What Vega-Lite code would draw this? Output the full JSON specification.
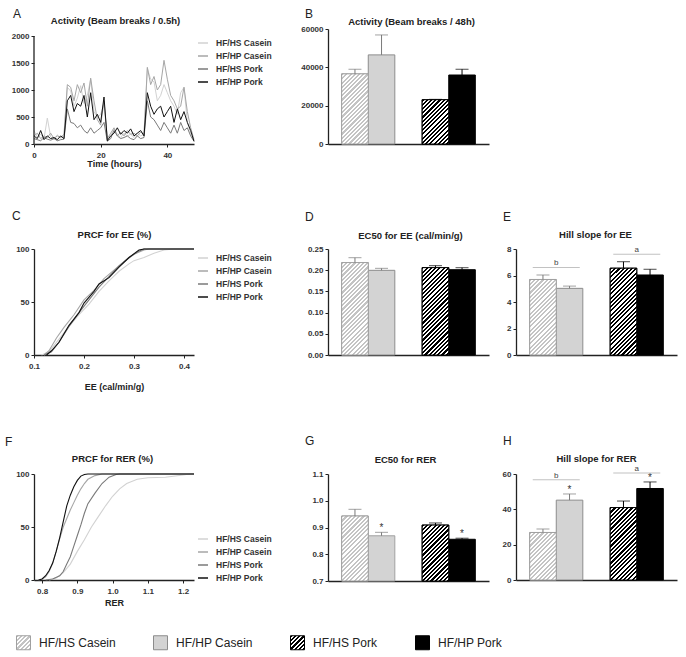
{
"$schema": "https://vega.github.io/schema/vega-lite/v6.json",
"background": "white",
"padding": {"left": 5, "top": 8, "right": 4, "bottom": 4},
"params": [
 {"name": "hd", "value": [{"offset":0,"color":"#000"},{"offset":0.0167,"color":"#000"},{"offset":0.0167,"color":"#fff"},{"offset":0.0333,"color":"#fff"},{"offset":0.0333,"color":"#000"},{"offset":0.05,"color":"#000"},{"offset":0.05,"color":"#fff"},{"offset":0.0667,"color":"#fff"},{"offset":0.0667,"color":"#000"},{"offset":0.0833,"color":"#000"},{"offset":0.0833,"color":"#fff"},{"offset":0.1,"color":"#fff"},{"offset":0.1,"color":"#000"},{"offset":0.1167,"color":"#000"},{"offset":0.1167,"color":"#fff"},{"offset":0.1333,"color":"#fff"},{"offset":0.1333,"color":"#000"},{"offset":0.15,"color":"#000"},{"offset":0.15,"color":"#fff"},{"offset":0.1667,"color":"#fff"},{"offset":0.1667,"color":"#000"},{"offset":0.1833,"color":"#000"},{"offset":0.1833,"color":"#fff"},{"offset":0.2,"color":"#fff"},{"offset":0.2,"color":"#000"},{"offset":0.2167,"color":"#000"},{"offset":0.2167,"color":"#fff"},{"offset":0.2333,"color":"#fff"},{"offset":0.2333,"color":"#000"},{"offset":0.25,"color":"#000"},{"offset":0.25,"color":"#fff"},{"offset":0.2667,"color":"#fff"},{"offset":0.2667,"color":"#000"},{"offset":0.2833,"color":"#000"},{"offset":0.2833,"color":"#fff"},{"offset":0.3,"color":"#fff"},{"offset":0.3,"color":"#000"},{"offset":0.3167,"color":"#000"},{"offset":0.3167,"color":"#fff"},{"offset":0.3333,"color":"#fff"},{"offset":0.3333,"color":"#000"},{"offset":0.35,"color":"#000"},{"offset":0.35,"color":"#fff"},{"offset":0.3667,"color":"#fff"},{"offset":0.3667,"color":"#000"},{"offset":0.3833,"color":"#000"},{"offset":0.3833,"color":"#fff"},{"offset":0.4,"color":"#fff"},{"offset":0.4,"color":"#000"},{"offset":0.4167,"color":"#000"},{"offset":0.4167,"color":"#fff"},{"offset":0.4333,"color":"#fff"},{"offset":0.4333,"color":"#000"},{"offset":0.45,"color":"#000"},{"offset":0.45,"color":"#fff"},{"offset":0.4667,"color":"#fff"},{"offset":0.4667,"color":"#000"},{"offset":0.4833,"color":"#000"},{"offset":0.4833,"color":"#fff"},{"offset":0.5,"color":"#fff"},{"offset":0.5,"color":"#000"},{"offset":0.5167,"color":"#000"},{"offset":0.5167,"color":"#fff"},{"offset":0.5333,"color":"#fff"},{"offset":0.5333,"color":"#000"},{"offset":0.55,"color":"#000"},{"offset":0.55,"color":"#fff"},{"offset":0.5667,"color":"#fff"},{"offset":0.5667,"color":"#000"},{"offset":0.5833,"color":"#000"},{"offset":0.5833,"color":"#fff"},{"offset":0.6,"color":"#fff"},{"offset":0.6,"color":"#000"},{"offset":0.6167,"color":"#000"},{"offset":0.6167,"color":"#fff"},{"offset":0.6333,"color":"#fff"},{"offset":0.6333,"color":"#000"},{"offset":0.65,"color":"#000"},{"offset":0.65,"color":"#fff"},{"offset":0.6667,"color":"#fff"},{"offset":0.6667,"color":"#000"},{"offset":0.6833,"color":"#000"},{"offset":0.6833,"color":"#fff"},{"offset":0.7,"color":"#fff"},{"offset":0.7,"color":"#000"},{"offset":0.7167,"color":"#000"},{"offset":0.7167,"color":"#fff"},{"offset":0.7333,"color":"#fff"},{"offset":0.7333,"color":"#000"},{"offset":0.75,"color":"#000"},{"offset":0.75,"color":"#fff"},{"offset":0.7667,"color":"#fff"},{"offset":0.7667,"color":"#000"},{"offset":0.7833,"color":"#000"},{"offset":0.7833,"color":"#fff"},{"offset":0.8,"color":"#fff"},{"offset":0.8,"color":"#000"},{"offset":0.8167,"color":"#000"},{"offset":0.8167,"color":"#fff"},{"offset":0.8333,"color":"#fff"},{"offset":0.8333,"color":"#000"},{"offset":0.85,"color":"#000"},{"offset":0.85,"color":"#fff"},{"offset":0.8667,"color":"#fff"},{"offset":0.8667,"color":"#000"},{"offset":0.8833,"color":"#000"},{"offset":0.8833,"color":"#fff"},{"offset":0.9,"color":"#fff"},{"offset":0.9,"color":"#000"},{"offset":0.9167,"color":"#000"},{"offset":0.9167,"color":"#fff"},{"offset":0.9333,"color":"#fff"},{"offset":0.9333,"color":"#000"},{"offset":0.95,"color":"#000"},{"offset":0.95,"color":"#fff"},{"offset":0.9667,"color":"#fff"},{"offset":0.9667,"color":"#000"},{"offset":0.9833,"color":"#000"},{"offset":0.9833,"color":"#fff"},{"offset":1,"color":"#fff"}]},
 {"name": "hl", "value": [{"offset":0,"color":"#c4c4c4"},{"offset":0.0167,"color":"#c4c4c4"},{"offset":0.0167,"color":"#fff"},{"offset":0.0333,"color":"#fff"},{"offset":0.0333,"color":"#c4c4c4"},{"offset":0.05,"color":"#c4c4c4"},{"offset":0.05,"color":"#fff"},{"offset":0.0667,"color":"#fff"},{"offset":0.0667,"color":"#c4c4c4"},{"offset":0.0833,"color":"#c4c4c4"},{"offset":0.0833,"color":"#fff"},{"offset":0.1,"color":"#fff"},{"offset":0.1,"color":"#c4c4c4"},{"offset":0.1167,"color":"#c4c4c4"},{"offset":0.1167,"color":"#fff"},{"offset":0.1333,"color":"#fff"},{"offset":0.1333,"color":"#c4c4c4"},{"offset":0.15,"color":"#c4c4c4"},{"offset":0.15,"color":"#fff"},{"offset":0.1667,"color":"#fff"},{"offset":0.1667,"color":"#c4c4c4"},{"offset":0.1833,"color":"#c4c4c4"},{"offset":0.1833,"color":"#fff"},{"offset":0.2,"color":"#fff"},{"offset":0.2,"color":"#c4c4c4"},{"offset":0.2167,"color":"#c4c4c4"},{"offset":0.2167,"color":"#fff"},{"offset":0.2333,"color":"#fff"},{"offset":0.2333,"color":"#c4c4c4"},{"offset":0.25,"color":"#c4c4c4"},{"offset":0.25,"color":"#fff"},{"offset":0.2667,"color":"#fff"},{"offset":0.2667,"color":"#c4c4c4"},{"offset":0.2833,"color":"#c4c4c4"},{"offset":0.2833,"color":"#fff"},{"offset":0.3,"color":"#fff"},{"offset":0.3,"color":"#c4c4c4"},{"offset":0.3167,"color":"#c4c4c4"},{"offset":0.3167,"color":"#fff"},{"offset":0.3333,"color":"#fff"},{"offset":0.3333,"color":"#c4c4c4"},{"offset":0.35,"color":"#c4c4c4"},{"offset":0.35,"color":"#fff"},{"offset":0.3667,"color":"#fff"},{"offset":0.3667,"color":"#c4c4c4"},{"offset":0.3833,"color":"#c4c4c4"},{"offset":0.3833,"color":"#fff"},{"offset":0.4,"color":"#fff"},{"offset":0.4,"color":"#c4c4c4"},{"offset":0.4167,"color":"#c4c4c4"},{"offset":0.4167,"color":"#fff"},{"offset":0.4333,"color":"#fff"},{"offset":0.4333,"color":"#c4c4c4"},{"offset":0.45,"color":"#c4c4c4"},{"offset":0.45,"color":"#fff"},{"offset":0.4667,"color":"#fff"},{"offset":0.4667,"color":"#c4c4c4"},{"offset":0.4833,"color":"#c4c4c4"},{"offset":0.4833,"color":"#fff"},{"offset":0.5,"color":"#fff"},{"offset":0.5,"color":"#c4c4c4"},{"offset":0.5167,"color":"#c4c4c4"},{"offset":0.5167,"color":"#fff"},{"offset":0.5333,"color":"#fff"},{"offset":0.5333,"color":"#c4c4c4"},{"offset":0.55,"color":"#c4c4c4"},{"offset":0.55,"color":"#fff"},{"offset":0.5667,"color":"#fff"},{"offset":0.5667,"color":"#c4c4c4"},{"offset":0.5833,"color":"#c4c4c4"},{"offset":0.5833,"color":"#fff"},{"offset":0.6,"color":"#fff"},{"offset":0.6,"color":"#c4c4c4"},{"offset":0.6167,"color":"#c4c4c4"},{"offset":0.6167,"color":"#fff"},{"offset":0.6333,"color":"#fff"},{"offset":0.6333,"color":"#c4c4c4"},{"offset":0.65,"color":"#c4c4c4"},{"offset":0.65,"color":"#fff"},{"offset":0.6667,"color":"#fff"},{"offset":0.6667,"color":"#c4c4c4"},{"offset":0.6833,"color":"#c4c4c4"},{"offset":0.6833,"color":"#fff"},{"offset":0.7,"color":"#fff"},{"offset":0.7,"color":"#c4c4c4"},{"offset":0.7167,"color":"#c4c4c4"},{"offset":0.7167,"color":"#fff"},{"offset":0.7333,"color":"#fff"},{"offset":0.7333,"color":"#c4c4c4"},{"offset":0.75,"color":"#c4c4c4"},{"offset":0.75,"color":"#fff"},{"offset":0.7667,"color":"#fff"},{"offset":0.7667,"color":"#c4c4c4"},{"offset":0.7833,"color":"#c4c4c4"},{"offset":0.7833,"color":"#fff"},{"offset":0.8,"color":"#fff"},{"offset":0.8,"color":"#c4c4c4"},{"offset":0.8167,"color":"#c4c4c4"},{"offset":0.8167,"color":"#fff"},{"offset":0.8333,"color":"#fff"},{"offset":0.8333,"color":"#c4c4c4"},{"offset":0.85,"color":"#c4c4c4"},{"offset":0.85,"color":"#fff"},{"offset":0.8667,"color":"#fff"},{"offset":0.8667,"color":"#c4c4c4"},{"offset":0.8833,"color":"#c4c4c4"},{"offset":0.8833,"color":"#fff"},{"offset":0.9,"color":"#fff"},{"offset":0.9,"color":"#c4c4c4"},{"offset":0.9167,"color":"#c4c4c4"},{"offset":0.9167,"color":"#fff"},{"offset":0.9333,"color":"#fff"},{"offset":0.9333,"color":"#c4c4c4"},{"offset":0.95,"color":"#c4c4c4"},{"offset":0.95,"color":"#fff"},{"offset":0.9667,"color":"#fff"},{"offset":0.9667,"color":"#c4c4c4"},{"offset":0.9833,"color":"#c4c4c4"},{"offset":0.9833,"color":"#fff"},{"offset":1,"color":"#fff"}]}
],
"datasets": {
 "act": [
  {"t":0,"HF/HS Casein":250,"HF/HP Casein":150,"HF/HS Pork":100,"HF/HP Pork":150},
  {"t":1,"HF/HS Casein":120,"HF/HP Casein":200,"HF/HS Pork":80,"HF/HP Pork":100},
  {"t":2,"HF/HS Casein":180,"HF/HP Casein":100,"HF/HS Pork":60,"HF/HP Pork":250},
  {"t":3,"HF/HS Casein":100,"HF/HP Casein":150,"HF/HS Pork":120,"HF/HP Pork":80},
  {"t":4,"HF/HS Casein":480,"HF/HP Casein":120,"HF/HS Pork":90,"HF/HP Pork":150},
  {"t":5,"HF/HS Casein":130,"HF/HP Casein":200,"HF/HS Pork":70,"HF/HP Pork":100},
  {"t":6,"HF/HS Casein":90,"HF/HP Casein":100,"HF/HS Pork":100,"HF/HP Pork":120},
  {"t":7,"HF/HS Casein":170,"HF/HP Casein":150,"HF/HS Pork":60,"HF/HP Pork":80},
  {"t":8,"HF/HS Casein":110,"HF/HP Casein":120,"HF/HS Pork":80,"HF/HP Pork":150},
  {"t":9,"HF/HS Casein":140,"HF/HP Casein":180,"HF/HS Pork":90,"HF/HP Pork":100},
  {"t":10,"HF/HS Casein":1050,"HF/HP Casein":1100,"HF/HS Pork":650,"HF/HP Pork":800},
  {"t":11,"HF/HS Casein":980,"HF/HP Casein":1050,"HF/HS Pork":400,"HF/HP Pork":900},
  {"t":12,"HF/HS Casein":700,"HF/HP Casein":800,"HF/HS Pork":380,"HF/HP Pork":600},
  {"t":13,"HF/HS Casein":850,"HF/HP Casein":1100,"HF/HS Pork":300,"HF/HP Pork":750},
  {"t":14,"HF/HS Casein":1080,"HF/HP Casein":950,"HF/HS Pork":350,"HF/HP Pork":700},
  {"t":15,"HF/HS Casein":750,"HF/HP Casein":1130,"HF/HS Pork":250,"HF/HP Pork":900},
  {"t":16,"HF/HS Casein":900,"HF/HP Casein":700,"HF/HS Pork":200,"HF/HP Pork":500},
  {"t":17,"HF/HS Casein":1200,"HF/HP Casein":1220,"HF/HS Pork":300,"HF/HP Pork":950},
  {"t":18,"HF/HS Casein":600,"HF/HP Casein":800,"HF/HS Pork":200,"HF/HP Pork":450},
  {"t":19,"HF/HS Casein":500,"HF/HP Casein":450,"HF/HS Pork":250,"HF/HP Pork":550},
  {"t":20,"HF/HS Casein":550,"HF/HP Casein":350,"HF/HS Pork":300,"HF/HP Pork":400},
  {"t":21,"HF/HS Casein":750,"HF/HP Casein":800,"HF/HS Pork":400,"HF/HP Pork":870},
  {"t":22,"HF/HS Casein":80,"HF/HP Casein":100,"HF/HS Pork":50,"HF/HP Pork":60},
  {"t":23,"HF/HS Casein":150,"HF/HP Casein":200,"HF/HS Pork":100,"HF/HP Pork":150},
  {"t":24,"HF/HS Casein":280,"HF/HP Casein":300,"HF/HS Pork":250,"HF/HP Pork":200},
  {"t":25,"HF/HS Casein":180,"HF/HP Casein":150,"HF/HS Pork":150,"HF/HP Pork":300},
  {"t":26,"HF/HS Casein":120,"HF/HP Casein":220,"HF/HS Pork":100,"HF/HP Pork":180},
  {"t":27,"HF/HS Casein":200,"HF/HP Casein":150,"HF/HS Pork":120,"HF/HP Pork":250},
  {"t":28,"HF/HS Casein":150,"HF/HP Casein":250,"HF/HS Pork":150,"HF/HP Pork":200},
  {"t":29,"HF/HS Casein":180,"HF/HP Casein":180,"HF/HS Pork":100,"HF/HP Pork":280},
  {"t":30,"HF/HS Casein":120,"HF/HP Casein":200,"HF/HS Pork":80,"HF/HP Pork":150},
  {"t":31,"HF/HS Casein":200,"HF/HP Casein":150,"HF/HS Pork":150,"HF/HP Pork":200},
  {"t":32,"HF/HS Casein":150,"HF/HP Casein":220,"HF/HS Pork":100,"HF/HP Pork":250},
  {"t":33,"HF/HS Casein":180,"HF/HP Casein":180,"HF/HS Pork":120,"HF/HP Pork":150},
  {"t":34,"HF/HS Casein":1400,"HF/HP Casein":1420,"HF/HS Pork":800,"HF/HP Pork":950},
  {"t":35,"HF/HS Casein":1200,"HF/HP Casein":1100,"HF/HS Pork":500,"HF/HP Pork":700},
  {"t":36,"HF/HS Casein":1150,"HF/HP Casein":1250,"HF/HS Pork":450,"HF/HP Pork":550},
  {"t":37,"HF/HS Casein":800,"HF/HP Casein":1000,"HF/HS Pork":350,"HF/HP Pork":650},
  {"t":38,"HF/HS Casein":900,"HF/HP Casein":1100,"HF/HS Pork":250,"HF/HP Pork":700},
  {"t":39,"HF/HS Casein":1100,"HF/HP Casein":1550,"HF/HS Pork":400,"HF/HP Pork":500},
  {"t":40,"HF/HS Casein":950,"HF/HP Casein":1200,"HF/HS Pork":300,"HF/HP Pork":600},
  {"t":41,"HF/HS Casein":800,"HF/HP Casein":900,"HF/HS Pork":200,"HF/HP Pork":700},
  {"t":42,"HF/HS Casein":700,"HF/HP Casein":800,"HF/HS Pork":350,"HF/HP Pork":400},
  {"t":43,"HF/HS Casein":550,"HF/HP Casein":650,"HF/HS Pork":200,"HF/HP Pork":650},
  {"t":44,"HF/HS Casein":950,"HF/HP Casein":700,"HF/HS Pork":400,"HF/HP Pork":450},
  {"t":45,"HF/HS Casein":1050,"HF/HP Casein":1050,"HF/HS Pork":250,"HF/HP Pork":600},
  {"t":46,"HF/HS Casein":400,"HF/HP Casein":600,"HF/HS Pork":300,"HF/HP Pork":400},
  {"t":47,"HF/HS Casein":200,"HF/HP Casein":300,"HF/HS Pork":150,"HF/HP Pork":250},
  {"t":48,"HF/HS Casein":60,"HF/HP Casein":80,"HF/HS Pork":50,"HF/HP Pork":50}
 ],
 "ee": [
  {"s":"HF/HS Casein","x":0.115,"y":0},{"s":"HF/HS Casein","x":0.13,"y":3},{"s":"HF/HS Casein","x":0.15,"y":15},{"s":"HF/HS Casein","x":0.17,"y":27},{"s":"HF/HS Casein","x":0.19,"y":38},{"s":"HF/HS Casein","x":0.21,"y":48},{"s":"HF/HS Casein","x":0.23,"y":60},{"s":"HF/HS Casein","x":0.25,"y":70},{"s":"HF/HS Casein","x":0.27,"y":79},{"s":"HF/HS Casein","x":0.29,"y":86},{"s":"HF/HS Casein","x":0.30,"y":89},{"s":"HF/HS Casein","x":0.32,"y":92},{"s":"HF/HS Casein","x":0.34,"y":96},{"s":"HF/HS Casein","x":0.36,"y":99},{"s":"HF/HS Casein","x":0.38,"y":100},{"s":"HF/HS Casein","x":0.42,"y":100},
  {"s":"HF/HP Casein","x":0.12,"y":0},{"s":"HF/HP Casein","x":0.13,"y":4},{"s":"HF/HP Casein","x":0.145,"y":16},{"s":"HF/HP Casein","x":0.16,"y":26},{"s":"HF/HP Casein","x":0.18,"y":38},{"s":"HF/HP Casein","x":0.20,"y":52},{"s":"HF/HP Casein","x":0.22,"y":61},{"s":"HF/HP Casein","x":0.24,"y":72},{"s":"HF/HP Casein","x":0.26,"y":80},{"s":"HF/HP Casein","x":0.28,"y":88},{"s":"HF/HP Casein","x":0.30,"y":95},{"s":"HF/HP Casein","x":0.32,"y":99},{"s":"HF/HP Casein","x":0.33,"y":100},{"s":"HF/HP Casein","x":0.42,"y":100},
  {"s":"HF/HS Pork","x":0.12,"y":0},{"s":"HF/HS Pork","x":0.135,"y":3},{"s":"HF/HS Pork","x":0.15,"y":12},{"s":"HF/HS Pork","x":0.17,"y":27},{"s":"HF/HS Pork","x":0.19,"y":40},{"s":"HF/HS Pork","x":0.21,"y":52},{"s":"HF/HS Pork","x":0.23,"y":64},{"s":"HF/HS Pork","x":0.25,"y":74},{"s":"HF/HS Pork","x":0.27,"y":84},{"s":"HF/HS Pork","x":0.29,"y":92},{"s":"HF/HS Pork","x":0.31,"y":98},{"s":"HF/HS Pork","x":0.32,"y":100},{"s":"HF/HS Pork","x":0.42,"y":100},
  {"s":"HF/HP Pork","x":0.125,"y":0},{"s":"HF/HP Pork","x":0.135,"y":4},{"s":"HF/HP Pork","x":0.15,"y":12},{"s":"HF/HP Pork","x":0.17,"y":28},{"s":"HF/HP Pork","x":0.19,"y":40},{"s":"HF/HP Pork","x":0.20,"y":49},{"s":"HF/HP Pork","x":0.22,"y":60},{"s":"HF/HP Pork","x":0.23,"y":67},{"s":"HF/HP Pork","x":0.25,"y":73},{"s":"HF/HP Pork","x":0.27,"y":83},{"s":"HF/HP Pork","x":0.29,"y":92},{"s":"HF/HP Pork","x":0.31,"y":99},{"s":"HF/HP Pork","x":0.32,"y":100},{"s":"HF/HP Pork","x":0.42,"y":100}
 ],
 "rer": [
  {"s":"HF/HS Casein","x":0.82,"y":0},{"s":"HF/HS Casein","x":0.84,"y":2},{"s":"HF/HS Casein","x":0.86,"y":7},{"s":"HF/HS Casein","x":0.88,"y":15},{"s":"HF/HS Casein","x":0.90,"y":27},{"s":"HF/HS Casein","x":0.92,"y":38},{"s":"HF/HS Casein","x":0.94,"y":50},{"s":"HF/HS Casein","x":0.96,"y":60},{"s":"HF/HS Casein","x":0.98,"y":70},{"s":"HF/HS Casein","x":1.00,"y":79},{"s":"HF/HS Casein","x":1.02,"y":86},{"s":"HF/HS Casein","x":1.04,"y":91},{"s":"HF/HS Casein","x":1.07,"y":95},{"s":"HF/HS Casein","x":1.10,"y":96.5},{"s":"HF/HS Casein","x":1.15,"y":97},{"s":"HF/HS Casein","x":1.20,"y":99},{"s":"HF/HS Casein","x":1.22,"y":100},{"s":"HF/HS Casein","x":1.231,"y":100},
  {"s":"HF/HP Casein","x":0.79,"y":0},{"s":"HF/HP Casein","x":0.80,"y":1},{"s":"HF/HP Casein","x":0.81,"y":3},{"s":"HF/HP Casein","x":0.82,"y":8},{"s":"HF/HP Casein","x":0.83,"y":16},{"s":"HF/HP Casein","x":0.84,"y":27},{"s":"HF/HP Casein","x":0.85,"y":39},{"s":"HF/HP Casein","x":0.86,"y":50},{"s":"HF/HP Casein","x":0.87,"y":58},{"s":"HF/HP Casein","x":0.88,"y":66},{"s":"HF/HP Casein","x":0.89,"y":73},{"s":"HF/HP Casein","x":0.90,"y":80},{"s":"HF/HP Casein","x":0.91,"y":86},{"s":"HF/HP Casein","x":0.92,"y":91},{"s":"HF/HP Casein","x":0.93,"y":95},{"s":"HF/HP Casein","x":0.95,"y":98.5},{"s":"HF/HP Casein","x":0.97,"y":100},{"s":"HF/HP Casein","x":1.231,"y":100},
  {"s":"HF/HS Pork","x":0.81,"y":0},{"s":"HF/HS Pork","x":0.83,"y":1},{"s":"HF/HS Pork","x":0.85,"y":4},{"s":"HF/HS Pork","x":0.86,"y":8},{"s":"HF/HS Pork","x":0.87,"y":15},{"s":"HF/HS Pork","x":0.88,"y":22},{"s":"HF/HS Pork","x":0.89,"y":32},{"s":"HF/HS Pork","x":0.90,"y":42},{"s":"HF/HS Pork","x":0.91,"y":52},{"s":"HF/HS Pork","x":0.92,"y":63},{"s":"HF/HS Pork","x":0.93,"y":72},{"s":"HF/HS Pork","x":0.95,"y":82},{"s":"HF/HS Pork","x":0.97,"y":91},{"s":"HF/HS Pork","x":0.99,"y":97},{"s":"HF/HS Pork","x":1.01,"y":99.5},{"s":"HF/HS Pork","x":1.02,"y":100},{"s":"HF/HS Pork","x":1.231,"y":100},
  {"s":"HF/HP Pork","x":0.79,"y":0},{"s":"HF/HP Pork","x":0.80,"y":1},{"s":"HF/HP Pork","x":0.81,"y":4},{"s":"HF/HP Pork","x":0.82,"y":9},{"s":"HF/HP Pork","x":0.83,"y":16},{"s":"HF/HP Pork","x":0.84,"y":27},{"s":"HF/HP Pork","x":0.85,"y":40},{"s":"HF/HP Pork","x":0.86,"y":55},{"s":"HF/HP Pork","x":0.87,"y":70},{"s":"HF/HP Pork","x":0.88,"y":80},{"s":"HF/HP Pork","x":0.89,"y":88},{"s":"HF/HP Pork","x":0.90,"y":94},{"s":"HF/HP Pork","x":0.91,"y":98},{"s":"HF/HP Pork","x":0.92,"y":99.5},{"s":"HF/HP Pork","x":0.93,"y":100},{"s":"HF/HP Pork","x":1.231,"y":100}
 ]
},
"columns": 4,
"spacing": {"row": 0, "column": 27},
"bounds": "flush",
"align": "each",
"resolve": {"scale": {"color": "independent", "fill": "independent", "stroke": "independent"}, "legend": {"color": "independent", "fill": "independent", "stroke": "independent"}},
"concat": [
 {
  "width": 160, "height": 115,
  "title": {"text": "A", "dx": -21, "offset": -6},
  "layer": [
   {
    "data": {"name": "act"},
    "transform": [{"fold": ["HF/HS Casein","HF/HP Casein","HF/HS Pork","HF/HP Pork"], "as": ["series","v"]}],
    "mark": {"type": "line", "strokeWidth": 1},
    "encoding": {
     "x": {"field": "t", "type": "quantitative", "scale": {"domain": [0,48], "nice": false}, "axis": {"values": [0,20,40], "tickCount": 20, "title": "Time (hours)", "titlePadding": 0}},
     "y": {"field": "v", "type": "quantitative", "scale": {"domain": [0,2130], "nice": false}, "axis": {"values": [0,500,1000,1500,2000], "tickCount": 20, "format": "d", "domain": false, "title": "Activity (Beam breaks / 0.5h)", "titleX": 81, "titleY": -6}},
     "color": {"field": "series", "type": "nominal", "scale": {"domain": ["HF/HS Casein","HF/HP Casein","HF/HS Pork","HF/HP Pork"], "range": ["#d2d2d2","#a6a6a6","#7a7a7a","#111111"]}, "legend": {"orient": "none", "legendX": 163, "legendY": 8, "title": null}}
    }
   },
   {
    "data": {"values": [{}]},
    "mark": {"type": "rule", "color": "#222222", "strokeWidth": 1.3},
    "encoding": {"x": {"datum": 0}, "y": {"datum": 0}, "y2": {"datum": 2000}}
   }
  ]
 },
 {"width": 80, "height": 220, "data": {"values": []}, "mark": "point"},
 {
  "width": 161, "height": 115,
  "title": {"text": "B", "dx": -23, "offset": -5},
  "data": {"values": [
   {"group":"Casein","diet":"HF/HS Casein","protein":"HS","v":36600,"hi":39000},
   {"group":"Casein","diet":"HF/HP Casein","protein":"HP","v":46500,"hi":56900},
   {"group":"Pork","diet":"HF/HS Pork","protein":"HS","v":23100,"hi":23300},
   {"group":"Pork","diet":"HF/HP Pork","protein":"HP","v":36000,"hi":39000}
  ]},
  "encoding": {"x": {"field": "group", "type": "nominal", "sort": ["Casein","Pork"], "scale": {"paddingInner": 0.34, "paddingOuter": 0.17}, "axis": {"labels": false, "ticks": false, "title": null}}},
  "layer": [
   {"mark": {"type": "bar", "strokeWidth": 1},
    "encoding": {
     "xOffset": {"field": "protein", "type": "nominal", "sort": ["HS","HP"], "scale": {"paddingInner": 0, "paddingOuter": 0}},
     "y": {"field": "v", "type": "quantitative", "scale": {"domain": [0,60000], "nice": false}, "axis": {"values": [0,20000,40000,60000], "tickCount": 20, "format": "d", "title": "Activity (Beam breaks / 48h)", "titleX": 83, "titleY": -5}},
     "fill": {"field": "diet", "type": "nominal", "scale": {"domain": ["HF/HS Casein","HF/HP Casein","HF/HS Pork","HF/HP Pork"], "range": ["#ffffff","#d3d3d3","#ffffff","#000000"]}, "legend": null},
     "stroke": {"field": "diet", "type": "nominal", "scale": {"domain": ["HF/HS Casein","HF/HP Casein","HF/HS Pork","HF/HP Pork"], "range": ["#a0a0a0","#8c8c8c","#000000","#000000"]}, "legend": null}
    }},
   {"transform": [{"filter": "datum.diet === 'HF/HS Casein'"}],
    "mark": {"type": "bar", "stroke": "#a0a0a0", "strokeWidth": 1, "fill": {"expr": "{gradient:'linear',x1:0,y1:0,x2:0.6009,y2:1.5868,stops:hl}"}},
    "encoding": {"xOffset": {"field": "protein", "type": "nominal", "sort": ["HS","HP"]}, "y": {"field": "v", "type": "quantitative", "title": "Activity (Beam breaks / 48h)"}}},
   {"transform": [{"filter": "datum.diet === 'HF/HS Pork'"}],
    "mark": {"type": "bar", "stroke": "#000000", "strokeWidth": 1, "fill": {"expr": "{gradient:'linear',x1:0,y1:0,x2:1.2681,y2:2.1137,stops:hd}"}},
    "encoding": {"xOffset": {"field": "protein", "type": "nominal", "sort": ["HS","HP"]}, "y": {"field": "v", "type": "quantitative", "title": "Activity (Beam breaks / 48h)"}}},
   {"mark": {"type": "rule", "strokeWidth": 1},
    "encoding": {"xOffset": {"field": "protein", "type": "nominal", "sort": ["HS","HP"]}, "y": {"field": "v", "type": "quantitative", "title": "Activity (Beam breaks / 48h)"}, "y2": {"field": "hi"}, "color": {"condition": {"test": "indexof(datum.diet,'Casein')>=0", "value": "#7a7a7a"}, "value": "#000000"}}},
   {"mark": {"type": "tick", "size": 13, "thickness": 1},
    "encoding": {"xOffset": {"field": "protein", "type": "nominal", "sort": ["HS","HP"]}, "y": {"field": "hi", "type": "quantitative", "title": "Activity (Beam breaks / 48h)"}, "color": {"condition": {"test": "indexof(datum.diet,'Casein')>=0", "value": "#7a7a7a"}, "value": "#000000"}}}
  ]
 },
 {"width": 161, "height": 1, "data": {"values": []}, "mark": "point"},
 {
  "width": 160, "height": 106,
  "title": {"text": "C", "dx": -22, "offset": 6},
  "data": {"name": "ee"},
  "mark": {"type": "line", "strokeWidth": 1.1},
  "encoding": {
   "x": {"field": "x", "type": "quantitative", "scale": {"domain": [0.1,0.42], "nice": false}, "axis": {"values": [0.1,0.2,0.3,0.4], "tickCount": 20, "format": ".1f", "title": "EE (cal/min/g)", "titlePadding": 12}},
   "y": {"field": "y", "type": "quantitative", "scale": {"domain": [0,100], "nice": false}, "axis": {"values": [0,50,100], "tickCount": 20, "format": "d", "title": "PRCF for EE (%)", "titleX": 80, "titleY": -12}},
   "color": {"field": "s", "type": "nominal", "scale": {"domain": ["HF/HS Casein","HF/HP Casein","HF/HS Pork","HF/HP Pork"], "range": ["#d2d2d2","#a6a6a6","#7a7a7a","#111111"]}, "legend": {"orient": "none", "legendX": 163, "legendY": 3, "title": null}}
  }
 },
 {"width": 80, "height": 225, "data": {"values": []}, "mark": "point"},
 {
  "width": 161, "height": 106,
  "title": {"text": "D", "dx": -23, "offset": 6},
  "data": {"values": [
   {"group":"Casein","diet":"HF/HS Casein","protein":"HS","v":0.218,"hi":0.2295},
   {"group":"Casein","diet":"HF/HP Casein","protein":"HP","v":0.1997,"hi":0.2044},
   {"group":"Pork","diet":"HF/HS Pork","protein":"HS","v":0.206,"hi":0.2107},
   {"group":"Pork","diet":"HF/HP Pork","protein":"HP","v":0.2012,"hi":0.2059}
  ]},
  "encoding": {"x": {"field": "group", "type": "nominal", "sort": ["Casein","Pork"], "scale": {"paddingInner": 0.34, "paddingOuter": 0.17}, "axis": {"labels": false, "ticks": false, "title": null}}},
  "layer": [
   {"mark": {"type": "bar", "strokeWidth": 1},
    "encoding": {
     "xOffset": {"field": "protein", "type": "nominal", "sort": ["HS","HP"], "scale": {"paddingInner": 0, "paddingOuter": 0}},
     "y": {"field": "v", "type": "quantitative", "scale": {"domain": [0,0.25], "nice": false}, "axis": {"values": [0,0.05,0.1,0.15,0.2,0.25], "tickCount": 20, "format": ".2f", "title": "EC50 for EE (cal/min/g)", "titleX": 82, "titleY": -11}},
     "fill": {"field": "diet", "type": "nominal", "scale": {"domain": ["HF/HS Casein","HF/HP Casein","HF/HS Pork","HF/HP Pork"], "range": ["#ffffff","#d3d3d3","#ffffff","#000000"]}, "legend": null},
     "stroke": {"field": "diet", "type": "nominal", "scale": {"domain": ["HF/HS Casein","HF/HP Casein","HF/HS Pork","HF/HP Pork"], "range": ["#a0a0a0","#8c8c8c","#000000","#000000"]}, "legend": null}
    }},
   {"transform": [{"filter": "datum.diet === 'HF/HS Casein'"}],
    "mark": {"type": "bar", "stroke": "#a0a0a0", "strokeWidth": 1, "fill": {"expr": "{gradient:'linear',x1:0,y1:0,x2:0.3656,y2:1.2720,stops:hl}"}},
    "encoding": {"xOffset": {"field": "protein", "type": "nominal", "sort": ["HS","HP"]}, "y": {"field": "v", "type": "quantitative", "title": "EC50 for EE (cal/min/g)"}}},
   {"transform": [{"filter": "datum.diet === 'HF/HS Pork'"}],
    "mark": {"type": "bar", "stroke": "#000000", "strokeWidth": 1, "fill": {"expr": "{gradient:'linear',x1:0,y1:0,x2:0.4057,y2:1.3339,stops:hd}"}},
    "encoding": {"xOffset": {"field": "protein", "type": "nominal", "sort": ["HS","HP"]}, "y": {"field": "v", "type": "quantitative", "title": "EC50 for EE (cal/min/g)"}}},
   {"mark": {"type": "rule", "strokeWidth": 1},
    "encoding": {"xOffset": {"field": "protein", "type": "nominal", "sort": ["HS","HP"]}, "y": {"field": "v", "type": "quantitative", "title": "EC50 for EE (cal/min/g)"}, "y2": {"field": "hi"}, "color": {"condition": {"test": "indexof(datum.diet,'Casein')>=0", "value": "#7a7a7a"}, "value": "#000000"}}},
   {"mark": {"type": "tick", "size": 13, "thickness": 1},
    "encoding": {"xOffset": {"field": "protein", "type": "nominal", "sort": ["HS","HP"]}, "y": {"field": "hi", "type": "quantitative", "title": "EC50 for EE (cal/min/g)"}, "color": {"condition": {"test": "indexof(datum.diet,'Casein')>=0", "value": "#7a7a7a"}, "value": "#000000"}}}
  ]
 },
 {
  "width": 161, "height": 106,
  "title": {"text": "E", "dx": -13, "offset": 5},
  "data": {"values": [
   {"group":"Casein","diet":"HF/HS Casein","protein":"HS","v":5.7,"hi":6.04},
   {"group":"Casein","diet":"HF/HP Casein","protein":"HP","v":5.03,"hi":5.2},
   {"group":"Pork","diet":"HF/HS Pork","protein":"HS","v":6.55,"hi":7.04},
   {"group":"Pork","diet":"HF/HP Pork","protein":"HP","v":6.04,"hi":6.47}
  ]},
  "encoding": {"x": {"field": "group", "type": "nominal", "sort": ["Casein","Pork"], "scale": {"paddingInner": 0.34, "paddingOuter": 0.17}, "axis": {"labels": false, "ticks": false, "title": null}}},
  "layer": [
   {"mark": {"type": "bar", "strokeWidth": 1},
    "encoding": {
     "xOffset": {"field": "protein", "type": "nominal", "sort": ["HS","HP"], "scale": {"paddingInner": 0, "paddingOuter": 0}},
     "y": {"field": "v", "type": "quantitative", "scale": {"domain": [0,8], "nice": false}, "axis": {"values": [0,2,4,6,8], "tickCount": 20, "format": "d", "title": "Hill slope for EE", "titleX": 79, "titleY": -12}},
     "fill": {"field": "diet", "type": "nominal", "scale": {"domain": ["HF/HS Casein","HF/HP Casein","HF/HS Pork","HF/HP Pork"], "range": ["#ffffff","#d3d3d3","#ffffff","#000000"]}, "legend": null},
     "stroke": {"field": "diet", "type": "nominal", "scale": {"domain": ["HF/HS Casein","HF/HP Casein","HF/HS Pork","HF/HP Pork"], "range": ["#a0a0a0","#8c8c8c","#000000","#000000"]}, "legend": null}
    }},
   {"transform": [{"filter": "datum.diet === 'HF/HS Casein'"}],
    "mark": {"type": "bar", "stroke": "#a0a0a0", "strokeWidth": 1, "fill": {"expr": "{gradient:'linear',x1:0,y1:0,x2:0.5275,y2:1.4997,stops:hl}"}},
    "encoding": {"xOffset": {"field": "protein", "type": "nominal", "sort": ["HS","HP"]}, "y": {"field": "v", "type": "quantitative", "title": "Hill slope for EE"}}},
   {"transform": [{"filter": "datum.diet === 'HF/HS Pork'"}],
    "mark": {"type": "bar", "stroke": "#000000", "strokeWidth": 1, "fill": {"expr": "{gradient:'linear',x1:0,y1:0,x2:0.4104,y2:1.3409,stops:hd}"}},
    "encoding": {"xOffset": {"field": "protein", "type": "nominal", "sort": ["HS","HP"]}, "y": {"field": "v", "type": "quantitative", "title": "Hill slope for EE"}}},
   {"mark": {"type": "rule", "strokeWidth": 1},
    "encoding": {"xOffset": {"field": "protein", "type": "nominal", "sort": ["HS","HP"]}, "y": {"field": "v", "type": "quantitative", "title": "Hill slope for EE"}, "y2": {"field": "hi"}, "color": {"condition": {"test": "indexof(datum.diet,'Casein')>=0", "value": "#7a7a7a"}, "value": "#000000"}}},
   {"mark": {"type": "tick", "size": 13, "thickness": 1},
    "encoding": {"xOffset": {"field": "protein", "type": "nominal", "sort": ["HS","HP"]}, "y": {"field": "hi", "type": "quantitative", "title": "Hill slope for EE"}, "color": {"condition": {"test": "indexof(datum.diet,'Casein')>=0", "value": "#7a7a7a"}, "value": "#000000"}}},
   {"data": {"values": [{"group":"Casein","lab":"b","lvl":6.6},{"group":"Pork","lab":"a","lvl":7.6}]},
    "layer": [
     {"mark": {"type": "tick", "size": 47, "thickness": 1, "color": "#a8a8a8"},
      "encoding": {"x": {"field": "group", "type": "nominal", "bandPosition": 0.45}, "y": {"field": "lvl", "type": "quantitative", "title": "Hill slope for EE"}}},
     {"mark": {"type": "text", "fontSize": 8, "baseline": "alphabetic", "dy": -2.5, "color": "#444444"},
      "encoding": {"x": {"field": "group", "type": "nominal"}, "y": {"field": "lvl", "type": "quantitative", "title": "Hill slope for EE"}, "text": {"field": "lab"}}}
    ]}
  ]
 },
 {
  "width": 160, "height": 106,
  "title": {"text": "F", "dx": -29, "offset": 4},
  "data": {"name": "rer"},
  "mark": {"type": "line", "strokeWidth": 1.1},
  "encoding": {
   "x": {"field": "x", "type": "quantitative", "scale": {"domain": [0.777,1.231], "nice": false}, "axis": {"values": [0.8,0.9,1.0,1.1,1.2], "tickCount": 20, "format": ".1f", "title": "RER", "titlePadding": 3}},
   "y": {"field": "y", "type": "quantitative", "scale": {"domain": [0,100], "nice": false}, "axis": {"values": [0,50,100], "tickCount": 20, "format": "d", "title": "PRCF for RER (%)", "titleX": 78, "titleY": -13}},
   "color": {"field": "s", "type": "nominal", "scale": {"domain": ["HF/HS Casein","HF/HP Casein","HF/HS Pork","HF/HP Pork"], "range": ["#d2d2d2","#a6a6a6","#7a7a7a","#111111"]}, "legend": {"orient": "none", "legendX": 163, "legendY": 59, "title": null}}
  }
 },
 {"width": 80, "height": 107, "data": {"values": []}, "mark": "point"},
 {
  "width": 161, "height": 107,
  "title": {"text": "G", "dx": -23, "offset": 6},
  "data": {"values": [
   {"group":"Casein","diet":"HF/HS Casein","protein":"HS","v":0.943,"hi":0.968,"sig":""},
   {"group":"Casein","diet":"HF/HP Casein","protein":"HP","v":0.869,"hi":0.882,"sig":"*"},
   {"group":"Pork","diet":"HF/HS Pork","protein":"HS","v":0.909,"hi":0.917,"sig":""},
   {"group":"Pork","diet":"HF/HP Pork","protein":"HP","v":0.856,"hi":0.86,"sig":"*"}
  ]},
  "encoding": {"x": {"field": "group", "type": "nominal", "sort": ["Casein","Pork"], "scale": {"paddingInner": 0.34, "paddingOuter": 0.17}, "axis": {"labels": false, "ticks": false, "title": null}}},
  "layer": [
   {"mark": {"type": "bar", "strokeWidth": 1},
    "encoding": {
     "xOffset": {"field": "protein", "type": "nominal", "sort": ["HS","HP"], "scale": {"paddingInner": 0, "paddingOuter": 0}},
     "y": {"field": "v", "type": "quantitative", "scale": {"domain": [0.7,1.1], "nice": false, "zero": false}, "axis": {"values": [0.7,0.8,0.9,1.0,1.1], "tickCount": 20, "format": ".1f", "title": "EC50 for RER", "titleX": 77, "titleY": -12}},
     "y2": {"datum": 0.7},
     "fill": {"condition": [{"test": "datum.diet === 'HF/HP Casein'", "value": "#d3d3d3"}, {"test": "datum.diet === 'HF/HP Pork'", "value": "#000000"}], "value": "#ffffff"},
     "stroke": {"condition": {"test": "indexof(datum.diet,'Casein')>=0", "value": "#a0a0a0"}, "value": "#000000"}
    }},
   {"transform": [{"filter": "datum.diet === 'HF/HS Casein'"}],
    "mark": {"type": "bar", "stroke": "#a0a0a0", "strokeWidth": 1, "fill": {"expr": "{gradient:'linear',x1:0,y1:0,x2:0.6857,y2:1.6779,stops:hl}"}},
    "encoding": {"xOffset": {"field": "protein", "type": "nominal", "sort": ["HS","HP"]}, "y": {"field": "v", "type": "quantitative", "title": "EC50 for RER"}, "y2": {"datum": 0.7}}},
   {"transform": [{"filter": "datum.diet === 'HF/HS Pork'"}],
    "mark": {"type": "bar", "stroke": "#000000", "strokeWidth": 1, "fill": {"expr": "{gradient:'linear',x1:0,y1:0,x2:0.8827,y2:1.8574,stops:hd}"}},
    "encoding": {"xOffset": {"field": "protein", "type": "nominal", "sort": ["HS","HP"]}, "y": {"field": "v", "type": "quantitative", "title": "EC50 for RER"}, "y2": {"datum": 0.7}}},
   {"mark": {"type": "rule", "strokeWidth": 1},
    "encoding": {"xOffset": {"field": "protein", "type": "nominal", "sort": ["HS","HP"]}, "y": {"field": "v", "type": "quantitative", "title": "EC50 for RER"}, "y2": {"field": "hi"}, "color": {"condition": {"test": "indexof(datum.diet,'Casein')>=0", "value": "#7a7a7a"}, "value": "#000000"}}},
   {"mark": {"type": "tick", "size": 13, "thickness": 1},
    "encoding": {"xOffset": {"field": "protein", "type": "nominal", "sort": ["HS","HP"]}, "y": {"field": "hi", "type": "quantitative", "title": "EC50 for RER"}, "color": {"condition": {"test": "indexof(datum.diet,'Casein')>=0", "value": "#7a7a7a"}, "value": "#000000"}}},
   {"transform": [{"filter": "datum.sig === '*'"}],
    "mark": {"type": "text", "fontSize": 10, "baseline": "alphabetic", "dy": -1, "color": "#333333"},
    "encoding": {"xOffset": {"field": "protein", "type": "nominal", "sort": ["HS","HP"]}, "y": {"field": "hi", "type": "quantitative", "title": "EC50 for RER"}, "text": {"field": "sig"}}},
   {"transform": [{"filter": "datum.diet === 'none'"}],
    "mark": {"type": "bar"},
    "encoding": {
     "xOffset": {"field": "protein", "type": "nominal", "sort": ["HS","HP"]},
     "y": {"field": "v", "type": "quantitative", "title": "EC50 for RER"},
     "stroke": {"field": "diet", "type": "nominal", "scale": {"domain": ["HF/HS Casein","HF/HP Casein","HF/HS Pork","HF/HP Pork"], "range": ["#a0a0a0","#8c8c8c","#000000","#000000"]},
      "legend": {"orient": "none", "legendX": -312, "legendY": 161, "direction": "horizontal", "columns": 4, "title": null, "symbolType": "square", "symbolSize": 196, "symbolStrokeWidth": 1, "labelFontSize": 12, "labelFontWeight": "normal", "labelColor": "#222222", "labelOffset": 8, "columnPadding": 35, "labelLimit": 200, "padding": 0,
       "encoding": {"symbols": {
        "fill": {"condition": [{"test": "datum.value === 'HF/HS Casein'", "value": {"expr": "{gradient:'linear',x1:0,y1:0,x2:4.5457,y2:4.5457,stops:hl}"}}, {"test": "datum.value === 'HF/HS Pork'", "value": {"expr": "{gradient:'linear',x1:0,y1:0,x2:4.5457,y2:4.5457,stops:hd}"}}, {"test": "datum.value === 'HF/HP Casein'", "value": "#d3d3d3"}], "value": "#000000"},
        "fillOpacity": {"value": 1},
        "strokeWidth": {"value": 1}
       }}}}
    }}
  ]
 },
 {
  "width": 161, "height": 106,
  "title": {"text": "H", "dx": -13, "offset": 5},
  "data": {"values": [
   {"group":"Casein","diet":"HF/HS Casein","protein":"HS","v":26.9,"hi":28.8,"sig":""},
   {"group":"Casein","diet":"HF/HP Casein","protein":"HP","v":45.2,"hi":48.7,"sig":"*"},
   {"group":"Pork","diet":"HF/HS Pork","protein":"HS","v":41.0,"hi":44.7,"sig":""},
   {"group":"Pork","diet":"HF/HP Pork","protein":"HP","v":51.8,"hi":55.5,"sig":"*"}
  ]},
  "encoding": {"x": {"field": "group", "type": "nominal", "sort": ["Casein","Pork"], "scale": {"paddingInner": 0.34, "paddingOuter": 0.17}, "axis": {"labels": false, "ticks": false, "title": null}}},
  "layer": [
   {"mark": {"type": "bar", "strokeWidth": 1},
    "encoding": {
     "xOffset": {"field": "protein", "type": "nominal", "sort": ["HS","HP"], "scale": {"paddingInner": 0, "paddingOuter": 0}},
     "y": {"field": "v", "type": "quantitative", "scale": {"domain": [0,60], "nice": false}, "axis": {"values": [0,20,40,60], "tickCount": 20, "format": "d", "title": "Hill slope for RER", "titleX": 80, "titleY": -13}},
     "fill": {"field": "diet", "type": "nominal", "scale": {"domain": ["HF/HS Casein","HF/HP Casein","HF/HS Pork","HF/HP Pork"], "range": ["#ffffff","#d3d3d3","#ffffff","#000000"]}, "legend": null},
     "stroke": {"field": "diet", "type": "nominal", "scale": {"domain": ["HF/HS Casein","HF/HP Casein","HF/HS Pork","HF/HP Pork"], "range": ["#a0a0a0","#8c8c8c","#000000","#000000"]}, "legend": null}
    }},
   {"transform": [{"filter": "datum.diet === 'HF/HS Casein'"}],
    "mark": {"type": "bar", "stroke": "#a0a0a0", "strokeWidth": 1, "fill": {"expr": "{gradient:'linear',x1:0,y1:0,x2:1.1408,y2:2.0407,stops:hl}"}},
    "encoding": {"xOffset": {"field": "protein", "type": "nominal", "sort": ["HS","HP"]}, "y": {"field": "v", "type": "quantitative", "title": "Hill slope for RER"}}},
   {"transform": [{"filter": "datum.diet === 'HF/HS Pork'"}],
    "mark": {"type": "bar", "stroke": "#000000", "strokeWidth": 1, "fill": {"expr": "{gradient:'linear',x1:0,y1:0,x2:0.5681,y2:1.5489,stops:hd}"}},
    "encoding": {"xOffset": {"field": "protein", "type": "nominal", "sort": ["HS","HP"]}, "y": {"field": "v", "type": "quantitative", "title": "Hill slope for RER"}}},
   {"mark": {"type": "rule", "strokeWidth": 1},
    "encoding": {"xOffset": {"field": "protein", "type": "nominal", "sort": ["HS","HP"]}, "y": {"field": "v", "type": "quantitative", "title": "Hill slope for RER"}, "y2": {"field": "hi"}, "color": {"condition": {"test": "indexof(datum.diet,'Casein')>=0", "value": "#7a7a7a"}, "value": "#000000"}}},
   {"mark": {"type": "tick", "size": 13, "thickness": 1},
    "encoding": {"xOffset": {"field": "protein", "type": "nominal", "sort": ["HS","HP"]}, "y": {"field": "hi", "type": "quantitative", "title": "Hill slope for RER"}, "color": {"condition": {"test": "indexof(datum.diet,'Casein')>=0", "value": "#7a7a7a"}, "value": "#000000"}}},
   {"transform": [{"filter": "datum.sig === '*'"}],
    "mark": {"type": "text", "fontSize": 10, "baseline": "alphabetic", "dy": -1, "color": "#333333"},
    "encoding": {"xOffset": {"field": "protein", "type": "nominal", "sort": ["HS","HP"]}, "y": {"field": "hi", "type": "quantitative", "title": "Hill slope for RER"}, "text": {"field": "sig"}}},
   {"data": {"values": [{"group":"Casein","lab":"b","lvl":56.8},{"group":"Pork","lab":"a","lvl":60.6}]},
    "layer": [
     {"mark": {"type": "tick", "size": 47, "thickness": 1, "color": "#a8a8a8"},
      "encoding": {"x": {"field": "group", "type": "nominal", "bandPosition": 0.45}, "y": {"field": "lvl", "type": "quantitative", "title": "Hill slope for RER"}}},
     {"mark": {"type": "text", "fontSize": 8, "baseline": "alphabetic", "dy": -2, "color": "#444444"},
      "encoding": {"x": {"field": "group", "type": "nominal"}, "y": {"field": "lvl", "type": "quantitative", "title": "Hill slope for RER"}, "text": {"field": "lab"}}}
    ]}
  ]
 }
],
"config": {
 "font": "Liberation Sans",
 "view": {"stroke": null},
 "axis": {"domainColor": "#222222", "domainWidth": 1.3, "tickColor": "#222222", "tickSize": 3, "tickWidth": 1, "tickCount": 20, "labelFontSize": 8, "labelFontWeight": "bold", "labelColor": "#333333", "labelPadding": 2, "labelFlush": false, "labelOverlap": false, "grid": false, "titleFontSize": 9.5, "titleFontWeight": "bold", "titleColor": "#222222"},
 "axisX": {"labelPadding": 4.5, "titleFontSize": 9},
 "axisY": {"titleAngle": 0, "titleAlign": "center", "titleBaseline": "alphabetic"},
 "legend": {"padding": 0, "symbolType": "stroke", "symbolSize": 100, "symbolStrokeWidth": 1.5, "labelFontSize": 8.5, "labelFontWeight": "bold", "labelColor": "#333333", "rowPadding": 2, "labelOffset": 7},
 "title": {"fontSize": 12, "fontWeight": "normal", "color": "#222222", "anchor": "start", "frame": "group", "baseline": "bottom"}
}
}
